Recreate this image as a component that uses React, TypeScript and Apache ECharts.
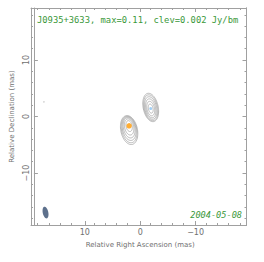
import React, { useEffect, useRef } from "react";
import * as echarts from "echarts";

// Axis extent (mas) and tick positions
const AXIS_MIN = -19.2;
const AXIS_MAX = 19.2;
const MAJOR_TICKS = [-10, 0, 10];
const MINOR_TICKS = [-18, -16, -14, -12, -8, -6, -4, -2, 2, 4, 6, 8, 12, 14, 16, 18];

// Texts
const TITLE_TEXT = "J0935+3633, max=0.11, clev=0.002 Jy/bm";
const DATE_TEXT = "2004-05-08";
const X_NAME = "Relative Right Ascension (mas)";
const Y_NAME = "Relative Declination (mas)";

// Contours (one ellipse per level): centre RA, centre Dec, semi-axis RA, semi-axis Dec (mas)
const CONTOUR_X = [2.0, 2.0, 2.0, 2.0, 2.0, 2.0, -1.9, -1.9, -1.9, -1.9, -1.9, -1.9];
const CONTOUR_Y = [-2.4, -2.3, -2.15, -2.0, -1.85, -1.7, 1.6, 1.55, 1.5, 1.45, 1.4, 1.4];
const CONTOUR_RX = [1.5, 1.36, 1.21, 1.03, 0.82, 0.55, 1.35, 1.22, 1.07, 0.88, 0.68, 0.42];
const CONTOUR_RY = [2.6, 2.38, 2.12, 1.82, 1.45, 0.98, 2.55, 2.32, 2.03, 1.7, 1.3, 0.82];
const CONTOUR_TILT = 12; // degrees

// Restoring beam
const BEAM_X = [17.1];
const BEAM_Y = [-17.0];
const BEAM_RX = [0.5];
const BEAM_RY = [1.05];

// Model components / peaks
const PEAK_MAIN = [2.0, -1.65];
const PEAK_SECOND = [-1.9, 1.4];
const SPECK = [17.4, 2.6];

const fmt = (v: number) => String(v).replace("-", "\u2212");

function ellipseItem(fill: string | null, stroke: string | null, lw: number) {
  return (params: any, api: any) => {
    const c = api.coord([api.value(0), api.value(1)]);
    const s = api.size([api.value(2), api.value(3)]);
    const rx = s[0];
    const ry = s[1];
    const t = (CONTOUR_TILT * Math.PI) / 180;
    const pts: number[][] = [];
    for (let i = 0; i < 72; i++) {
      const a = (i / 72) * Math.PI * 2;
      const ex = rx * Math.cos(a);
      const ey = ry * Math.sin(a);
      pts.push([c[0] + ex * Math.cos(t) + ey * Math.sin(t), c[1] - ex * Math.sin(t) + ey * Math.cos(t)]);
    }
    return {
      type: "polygon",
      shape: { points: pts },
      style: { fill: fill || "none", stroke: stroke || "none", lineWidth: lw },
      silent: true,
    };
  };
}

export default function App() {
  const ref = useRef<HTMLDivElement>(null);
  useEffect(() => {
    if (!ref.current) return;
    const chart = echarts.init(ref.current, null, { renderer: "svg" });
    const gridPos = { left: 31, top: 8, right: 17.5, bottom: 37 };
    const lineCol = "#a0a0a0";
    const labelStyle = { fontSize: 8, color: "#707070", fontFamily: "DejaVu Sans" };
    const mkX = (grid: number, position: string, ticks: number[], len: number, labels: boolean, name?: string) => ({
      type: "value",
      gridIndex: grid,
      position,
      inverse: true,
      min: AXIS_MIN,
      max: AXIS_MAX,
      axisLine: { show: true, onZero: false, lineStyle: { color: lineCol, width: 1 } },
      axisTick: { show: true, inside: true, length: len, customValues: ticks, lineStyle: { color: lineCol, width: 1 } },
      axisLabel: labels
        ? { show: true, customValues: ticks, formatter: fmt, margin: 3, ...labelStyle }
        : { show: false },
      splitLine: { show: false },
      name: name,
      nameLocation: "middle",
      nameGap: 16,
      nameTextStyle: { fontSize: 7, color: "#707070", fontFamily: "DejaVu Sans" },
    });
    const mkY = (grid: number, position: string, ticks: number[], len: number, labels: boolean, name?: string) => ({
      type: "value",
      gridIndex: grid,
      position,
      min: AXIS_MIN,
      max: AXIS_MAX,
      axisLine: { show: true, onZero: false, lineStyle: { color: lineCol, width: 1 } },
      axisTick: { show: true, inside: true, length: len, customValues: ticks, lineStyle: { color: lineCol, width: 1 } },
      axisLabel: labels
        ? { show: true, customValues: ticks, formatter: fmt, margin: 3, rotate: 90, ...labelStyle }
        : { show: false },
      splitLine: { show: false },
      name: name,
      nameLocation: "middle",
      nameGap: 15,
      nameTextStyle: { fontSize: 7, color: "#707070", fontFamily: "DejaVu Sans" },
    });

    const contourData = CONTOUR_X.map((x, i) => [x, CONTOUR_Y[i], CONTOUR_RX[i], CONTOUR_RY[i]]);
    const beamData = BEAM_X.map((x, i) => [x, BEAM_Y[i], BEAM_RX[i], BEAM_RY[i]]);

    chart.setOption({
      animation: false,
      backgroundColor: "#ffffff",
      grid: [gridPos, gridPos],
      xAxis: [
        mkX(0, "bottom", MAJOR_TICKS, 4, true, X_NAME),
        mkX(0, "top", MAJOR_TICKS, 4, false),
        mkX(1, "bottom", MINOR_TICKS, 2, false),
        mkX(1, "top", MINOR_TICKS, 2, false),
      ],
      yAxis: [
        mkY(0, "left", MAJOR_TICKS, 4, true, Y_NAME),
        mkY(0, "right", MAJOR_TICKS, 4, false),
        mkY(1, "left", MINOR_TICKS, 2, false),
        mkY(1, "right", MINOR_TICKS, 2, false),
      ],
      series: [
        {
          type: "custom",
          xAxisIndex: 0,
          yAxisIndex: 0,
          renderItem: ellipseItem(null, "#a6a6a6", 0.8),
          data: contourData,
          clip: true,
        },
        {
          type: "custom",
          xAxisIndex: 0,
          yAxisIndex: 0,
          renderItem: ellipseItem("#5d708c", null, 0),
          data: beamData,
        },
        {
          type: "scatter",
          xAxisIndex: 0,
          yAxisIndex: 0,
          symbolSize: 5.5,
          itemStyle: { color: "#ff9900" },
          data: [PEAK_MAIN],
          silent: true,
        },
        {
          type: "scatter",
          xAxisIndex: 0,
          yAxisIndex: 0,
          symbolSize: 3,
          itemStyle: { color: "#8cc4f2" },
          data: [PEAK_SECOND],
          silent: true,
        },
        {
          type: "scatter",
          xAxisIndex: 0,
          yAxisIndex: 0,
          symbolSize: 1.5,
          itemStyle: { color: "#bbbbbb" },
          data: [SPECK],
          silent: true,
        },
      ],
      graphic: [
        {
          type: "text",
          x: 37,
          y: 20,
          style: {
            text: TITLE_TEXT,
            font: '8.8px "DejaVu Sans Mono"',
            fill: "#3a983a",
            verticalAlign: "middle",
            align: "left",
          },
        },
        {
          type: "text",
          x: 242,
          y: 215,
          style: {
            text: DATE_TEXT,
            font: 'italic 8.6px "DejaVu Sans Mono"',
            fill: "#3a983a",
            verticalAlign: "middle",
            align: "right",
          },
        },
      ],
    });
    return () => chart.dispose();
  }, []);
  return <div ref={ref} style={{ width: 264, height: 262, position: "absolute", left: 0, top: 0 }} />;
}
